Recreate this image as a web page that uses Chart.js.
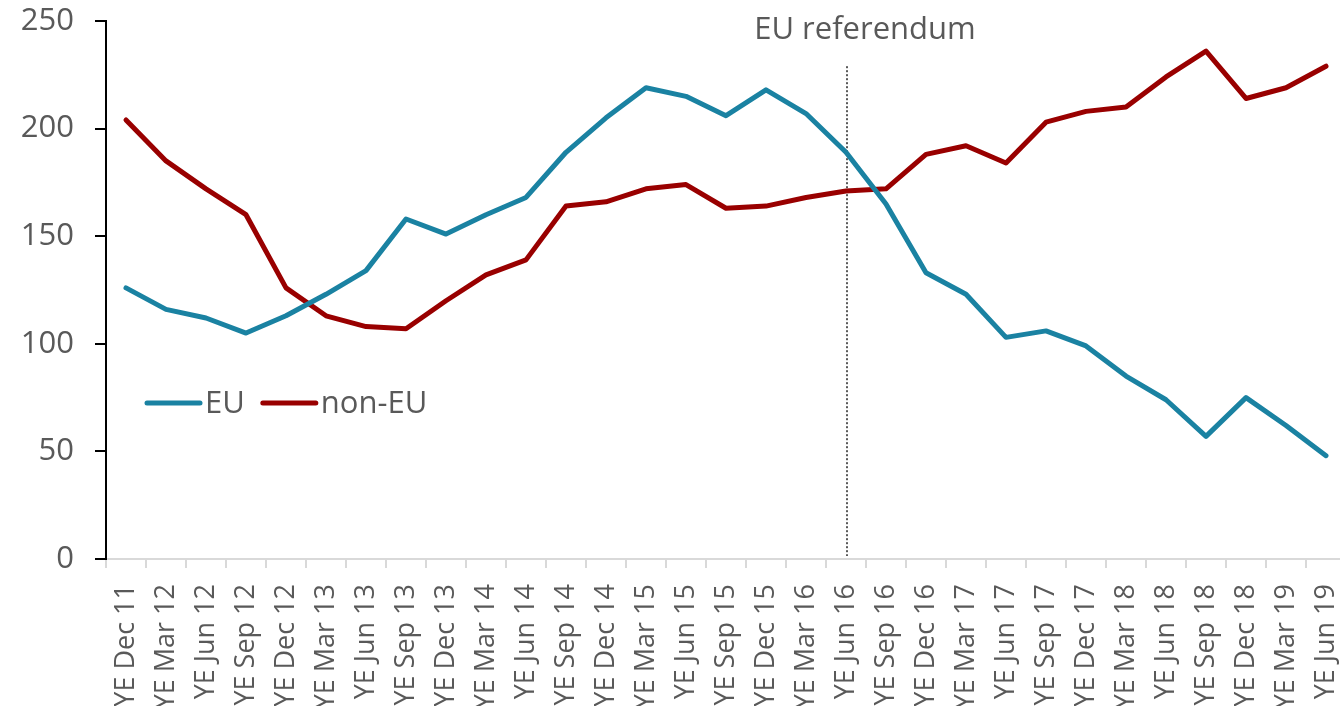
<!DOCTYPE html>
<html>
<head>
<meta charset="utf-8">
<script src="https://cdn.jsdelivr.net/npm/chart.js@4"></script>
<style>
  html, body { margin: 0; padding: 0; background: #fff; overflow: hidden; }
  #wrap { width: 1346px; height: 706px; }
</style>
</head>
<body>
<div id="wrap"><canvas id="chart" width="1346" height="706"></canvas></div>
<script>
// data
const quarters = [
  "YE Dec 11", "YE Mar 12", "YE Jun 12", "YE Sep 12", "YE Dec 12", "YE Mar 13", "YE Jun 13", "YE Sep 13",
  "YE Dec 13", "YE Mar 14", "YE Jun 14", "YE Sep 14", "YE Dec 14", "YE Mar 15", "YE Jun 15", "YE Sep 15",
  "YE Dec 15", "YE Mar 16", "YE Jun 16", "YE Sep 16", "YE Dec 16", "YE Mar 17", "YE Jun 17", "YE Sep 17",
  "YE Dec 17", "YE Mar 18", "YE Jun 18", "YE Sep 18", "YE Dec 18", "YE Mar 19", "YE Jun 19"
];
const euValues = [
  126, 116, 112, 105, 113, 123, 134, 158, 151, 160, 168, 189, 205, 219, 215, 206,
  218, 207, 189, 165, 133, 123, 103, 106, 99, 85, 74, 57, 75, 62, 48
];
const nonEuValues = [
  204, 185, 172, 160, 126, 113, 108, 107, 120, 132, 139, 164, 166, 172, 174, 163,
  164, 168, 171, 172, 188, 192, 184, 203, 208, 210, 224, 236, 214, 219, 229
];
const yTicks = [0, 50, 100, 150, 200, 250];
const referendumAt = "YE Jun 16";
const referendumLabel = "EU referendum";

const textColor = "#595959";
Chart.defaults.font.family = "'Open Sans', sans-serif";
Chart.defaults.color = textColor;

// dotted line for the referendum + legend inside the plot
const extras = {
  id: "extras",
  beforeDatasetsDraw(chart) {
    const { ctx, chartArea, scales } = chart;
    const x = Math.round(scales.x.getPixelForValue(quarters.indexOf(referendumAt))) + 1;
    ctx.save();
    ctx.strokeStyle = textColor;
    ctx.lineWidth = 2;
    ctx.setLineDash([2, 2]);
    ctx.beginPath();
    ctx.moveTo(x, scales.y.getPixelForValue(229));
    ctx.lineTo(x, chartArea.bottom - 3);
    ctx.stroke();
    ctx.setLineDash([]);
    ctx.font = "31px 'Open Sans'";
    ctx.fillStyle = textColor;
    ctx.textAlign = "center";
    ctx.textBaseline = "alphabetic";
    ctx.fillText(referendumLabel, x + 18, 39);
    ctx.restore();
  },
  afterDraw(chart) {
    const { ctx, chartArea } = chart;
    let x = chartArea.left + 41;
    const y = chartArea.top + 382;
    ctx.save();
    ctx.font = "31px 'Open Sans'";
    ctx.textBaseline = "middle";
    ctx.textAlign = "left";
    chart.data.datasets.forEach(ds => {
      ctx.strokeStyle = ds.borderColor;
      ctx.lineWidth = 5;
      ctx.lineCap = "round";
      ctx.beginPath();
      ctx.moveTo(x, y);
      ctx.lineTo(x + 53, y);
      ctx.stroke();
      ctx.fillStyle = textColor;
      ctx.fillText(ds.label, x + 58, y + 1);
      x += 58 + ctx.measureText(ds.label).width + 18;
    });
    ctx.restore();
  }
};

new Chart(document.getElementById("chart"), {
  type: "line",
  data: {
    labels: quarters,
    datasets: [
      { label: "EU", data: euValues, borderColor: "#1A82A2" },
      { label: "non-EU", data: nonEuValues, borderColor: "#990000" }
    ]
  },
  options: {
    responsive: false,
    animation: false,
    layout: { padding: { top: 21, left: 0, right: 0, bottom: 0 } },
    elements: {
      line: { borderWidth: 5, tension: 0, borderJoinStyle: "round", borderCapStyle: "round", fill: false },
      point: { radius: 0 }
    },
    plugins: {
      legend: { display: false },
      tooltip: { enabled: false }
    },
    scales: {
      x: {
        offset: true,
        grid: { offset: true, drawOnChartArea: false, tickLength: 9, color: "#d9d9d9", lineWidth: 2 },
        border: { color: "#d9d9d9", width: 2 },
        ticks: {
          autoSkip: false, maxRotation: 90, minRotation: 90, padding: 16,
          color: textColor, font: { size: 27 }
        },
        afterFit(scale) {
          scale.height = 147;
          scale.paddingLeft = 0;
          scale.paddingRight = 0;
        }
      },
      y: {
        min: 0, max: 250,
        afterBuildTicks(scale) { scale.ticks = yTicks.map(v => ({ value: v })); },
        grid: { drawOnChartArea: false, tickLength: 11, color: "#000", lineWidth: 2 },
        border: { color: "#000", width: 2 },
        ticks: { padding: 21, color: textColor, font: { size: 31 } },
        afterFit(scale) {
          scale.width = 106;
          scale.paddingTop = 0;
          scale.paddingBottom = 0;
        }
      }
    }
  },
  plugins: [extras]
});
</script>
</body>
</html>
